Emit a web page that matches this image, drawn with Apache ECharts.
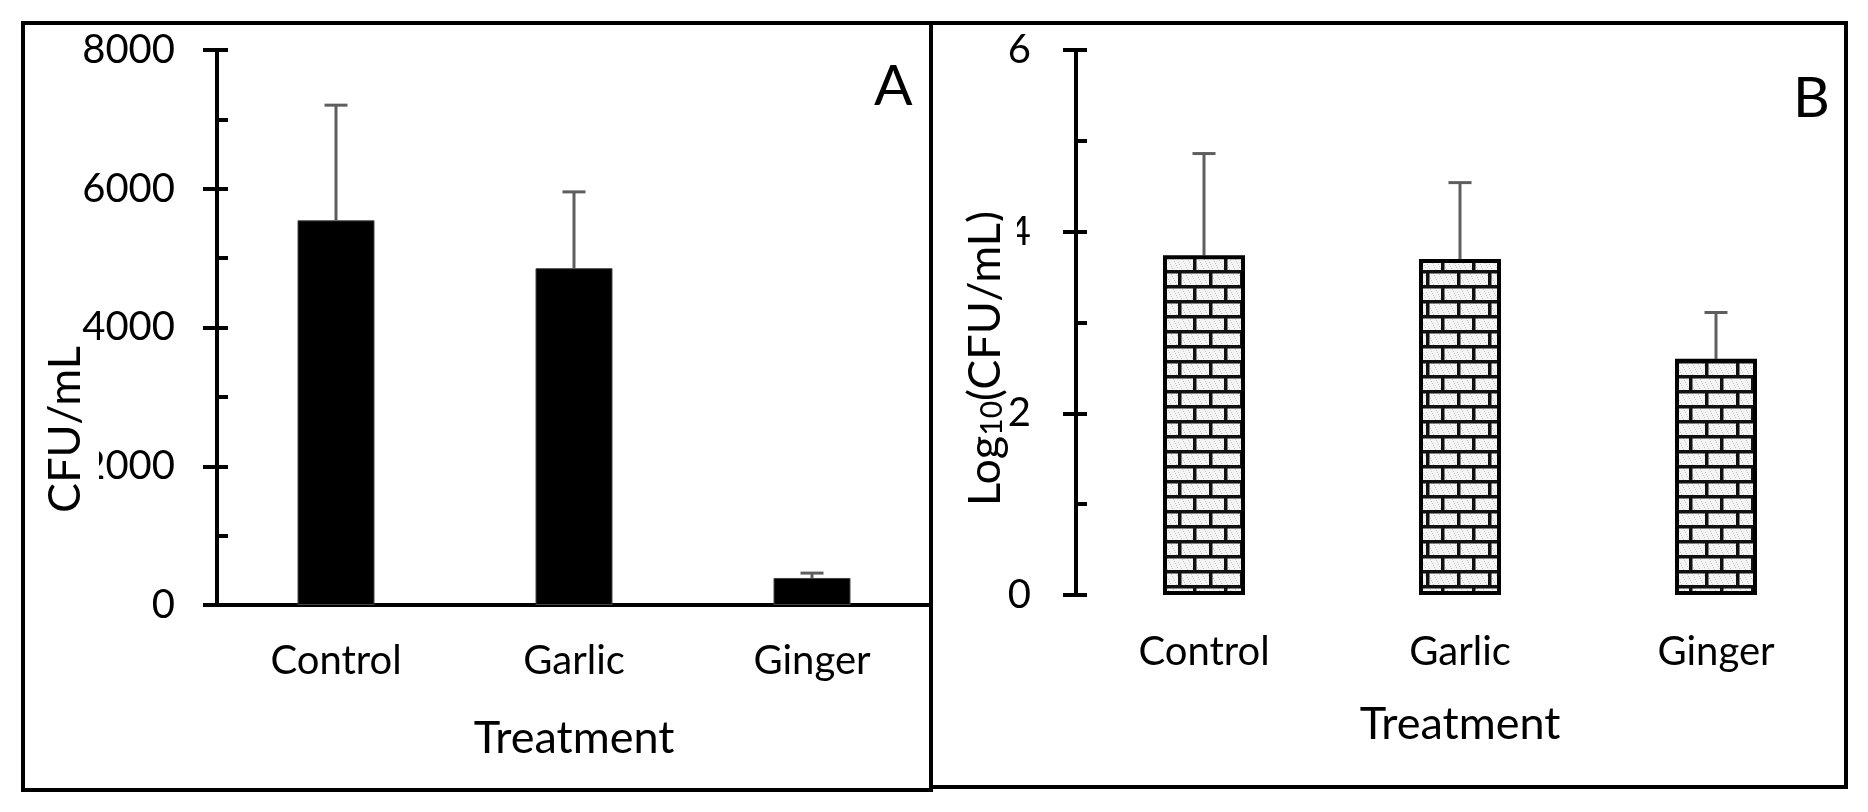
<!DOCTYPE html>
<html>
<head>
<meta charset="utf-8">
<script src="https://cdn.jsdelivr.net/npm/echarts@6/dist/echarts.min.js"></script>
<style>
html,body{margin:0;padding:0;background:#fff;}
#chart{width:1868px;height:812px;}
</style>
</head>
<body>
<div id="chart"></div>
<script>
// ---- data ----
const categories = ['Control', 'Garlic', 'Ginger'];
const cfuMean = [5545, 4855, 390];
const cfuErr = [1660, 1100, 70];
const logMean = [3.74, 3.70, 2.60];
const logErr = [1.12, 0.84, 0.51];
const cfuTickLabels = ['0', '2000', '4000', '6000', '8000'];
const logTickLabels = ['0', '2', '4', '6'];
const panelLetters = ['A', 'B'];

// ---- styling helpers ----
const FONT = 'Lato';

function brickCanvas() {
  const c = document.createElement('canvas');
  c.width = 31; c.height = 30;
  const g = c.getContext('2d');
  g.fillStyle = '#f4f4f4';
  g.fillRect(0, 0, 31, 30);
  g.fillStyle = '#c8c8c8';
  for (let y = 0; y < 30; y++) {
    for (let x = 0; x < 31; x++) {
      if ((x * 7 + y * 13) % 11 === 0) g.fillRect(x, y, 1, 1);
    }
  }
  g.fillStyle = '#111';
  g.fillRect(0, 0, 31, 3.5);
  g.fillRect(0, 15, 31, 3.5);
  g.fillRect(0, 3, 3.5, 12);
  g.fillRect(15, 18, 3.5, 12);
  return c;
}

function errRender(params, api) {
  const i = api.value(0), m = api.value(1), e = api.value(2);
  const p0 = api.coord([i, m]);
  const p1 = api.coord([i, m + e]);
  const hw = 11.5;
  const st = { stroke: '#5e5e5e', lineWidth: 3 };
  return {
    type: 'group',
    children: [
      { type: 'line', shape: { x1: p0[0], y1: p0[1], x2: p1[0], y2: p1[1] }, style: st },
      { type: 'line', shape: { x1: p1[0] - hw, y1: p1[1], x2: p1[0] + hw, y2: p1[1] }, style: st }
    ]
  };
}

const chart = echarts.init(document.getElementById('chart'), null, { renderer: 'canvas' });

const axisLineStyle = { color: '#000', width: 4 };
const labelStyle = { color: '#000', fontFamily: FONT, fontSize: 40 };

const option = {
  backgroundColor: '#fff',
  animation: false,
  textStyle: { fontFamily: FONT, color: '#000' },
  grid: [
    { left: 217, top: 50, width: 714, height: 555 },
    { left: 1076, top: 50, width: 768, height: 545 }
  ],
  xAxis: [
    {
      gridIndex: 0, type: 'category', data: categories,
      axisLine: { lineStyle: axisLineStyle },
      axisTick: { show: false },
      axisLabel: Object.assign({ margin: 36 }, labelStyle),
      name: 'Treatment', nameLocation: 'middle', nameGap: 111,
      nameTextStyle: { fontFamily: FONT, fontSize: 45, color: '#000' }
    },
    {
      gridIndex: 1, type: 'category', data: categories,
      axisLine: { show: false },
      axisTick: { show: false },
      axisLabel: Object.assign({ margin: 37 }, labelStyle),
      name: 'Treatment', nameLocation: 'middle', nameGap: 107,
      nameTextStyle: { fontFamily: FONT, fontSize: 45, color: '#000' }
    }
  ],
  yAxis: [
    {
      gridIndex: 0, type: 'value', position: 'left', min: 0, max: 8000, interval: 1000,
      axisLine: { show: true, lineStyle: axisLineStyle },
      axisTick: { show: true, inside: true, length: 11, lineStyle: { color: '#000', width: 4 } },
      axisLabel: { show: false },
      splitLine: { show: false },
      name: '{t|CFU/mL}{s|}', nameLocation: 'middle', nameGap: 120, nameRotate: 90,
      nameMoveOverlap: false,
      nameTextStyle: {
        rich: {
          t: { fontFamily: FONT, fontSize: 45, color: '#000', lineHeight: 64 },
          s: { width: 204, lineHeight: 64 }
        }
      }
    },
    {
      gridIndex: 0, type: 'value', position: 'left', min: 0, max: 8000, interval: 2000,
      axisLine: { show: false },
      axisTick: { show: true, inside: false, length: 14, lineStyle: { color: '#000', width: 4 } },
      axisLabel: Object.assign({
        margin: 42,
        formatter: v => cfuTickLabels[Math.round(v / 2000)]
      }, labelStyle),
      splitLine: { show: false }
    },
    {
      gridIndex: 1, type: 'value', position: 'left', min: 0, max: 6, interval: 1,
      axisLine: { show: true, lineStyle: axisLineStyle },
      axisTick: { show: true, inside: true, length: 11, lineStyle: { color: '#000', width: 4 } },
      axisLabel: { show: false },
      splitLine: { show: false },
      name: '{t|Log}{sub|10}{t|(CFU/mL)}{s|}', nameLocation: 'middle', nameGap: 59, nameRotate: 90,
      nameMoveOverlap: false,
      nameTextStyle: {
        rich: {
          t: { fontFamily: FONT, fontSize: 45, color: '#000', lineHeight: 64 },
          sub: { fontFamily: FONT, fontSize: 30, color: '#000', lineHeight: 64, padding: [14, 0, 0, 0] },
          s: { width: 72, lineHeight: 64 }
        }
      }
    },
    {
      gridIndex: 1, type: 'value', position: 'left', min: 0, max: 6, interval: 2,
      axisLine: { show: false },
      axisTick: { show: true, inside: false, length: 13, lineStyle: { color: '#000', width: 4 } },
      axisLabel: Object.assign({
        margin: 45,
        formatter: v => logTickLabels[Math.round(v / 2)]
      }, labelStyle),
      splitLine: { show: false }
    }
  ],
  series: [
    {
      type: 'bar', xAxisIndex: 0, yAxisIndex: 0, data: cfuMean, barWidth: 77,
      itemStyle: { color: '#000', borderColor: '#444', borderWidth: 1 }, z: 2
    },
    {
      type: 'custom', xAxisIndex: 0, yAxisIndex: 0, renderItem: errRender, z: 1,
      data: categories.map((c, i) => [i, cfuMean[i], cfuErr[i]])
    },
    {
      type: 'bar', xAxisIndex: 1, yAxisIndex: 2, data: logMean, barWidth: 82,
      itemStyle: {
        color: { image: brickCanvas(), repeat: 'repeat' },
        borderColor: '#000', borderWidth: 4
      }, z: 2
    },
    {
      type: 'custom', xAxisIndex: 1, yAxisIndex: 2, renderItem: errRender, z: 1,
      data: categories.map((c, i) => [i, logMean[i], logErr[i]])
    }
  ],
  graphic: [
    { type: 'rect', shape: { x: 23, y: 23, width: 908, height: 767 }, style: { fill: 'none', stroke: '#000', lineWidth: 4 }, z: 0 },
    { type: 'rect', shape: { x: 931, y: 23, width: 915, height: 764 }, style: { fill: 'none', stroke: '#000', lineWidth: 4 }, z: 0 },
    // white mask: the axis title box hides part of the "2000" label in the original
    { type: 'rect', shape: { x: 84, y: 445, width: 15, height: 45 }, style: { fill: '#fff' }, z: 100 },
    { type: 'rect', shape: { x: 1003, y: 215, width: 14, height: 35 }, style: { fill: '#fff' }, z: 100 },
    { type: 'text', left: 874, top: 58, style: { text: panelLetters[0], font: '57px Lato', fill: '#000' }, z: 5 },
    { type: 'text', left: 1793, top: 70, style: { text: panelLetters[1], font: '57px Lato', fill: '#000' }, z: 5 }
  ]
};

chart.setOption(option);
</script>
</body>
</html>
